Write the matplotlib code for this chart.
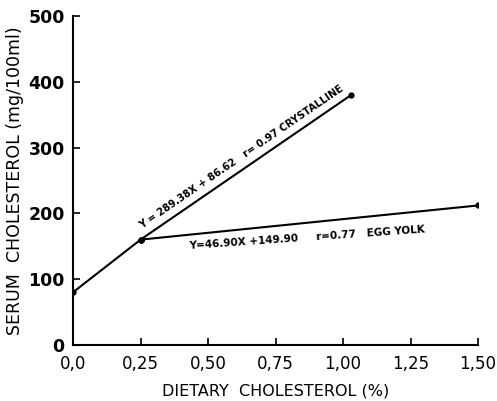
import matplotlib
matplotlib.use('Agg')
import matplotlib.pyplot as plt

# data
x_base = [0.0, 0.25]
y_base = [80, 160]
x_cryst = [0.25, 1.03]
y_cryst = [160, 380]
x_egg = [0.25, 1.5]
y_egg = [160, 212]

xticks = [0.0, 0.25, 0.50, 0.75, 1.00, 1.25, 1.50]
xtick_labels = ['0,0', '0,25', '0,50', '0,75', '1,00', '1,25', '1,50']
yticks = [0, 100, 200, 300, 400, 500]

cryst_label = 'Y = 289.38X + 86.62   r= 0.97 CRYSTALLINE'
egg_label = 'Y=46.90X +149.90     r=0.77   EGG YOLK'

fig = plt.figure(figsize=(4.97, 4.01), dpi=100)
ax = fig.add_axes([0.147, 0.140, 0.815, 0.820])

ax.plot(x_base, y_base, color='black', lw=1.5, marker='o', ms=3.5)
ax.plot(x_cryst, y_cryst, color='black', lw=1.5, marker='o', ms=3.5)
ax.plot(x_egg, y_egg, color='black', lw=1.5, marker='o', ms=3.5)

ax.text(0.26, 174, cryst_label, rotation=34.5, rotation_mode='anchor',
        ha='left', va='bottom', fontsize=7.2, fontweight='semibold')
ax.text(0.432, 143, egg_label, rotation=4, rotation_mode='anchor',
        ha='left', va='bottom', fontsize=7.5, fontweight='semibold')

ax.set_xlim(0, 1.5)
ax.set_ylim(0, 500)
ax.set_xticks(xticks)
ax.set_xticklabels(xtick_labels, fontsize=12)
ax.set_yticks(yticks)
ax.set_yticklabels([str(v) for v in yticks], fontsize=12.5, fontweight='bold')
ax.tick_params(direction='in', length=5, width=1.2)
ax.tick_params(axis='x', pad=7)
ax.tick_params(axis='y', pad=6)

ax.spines['top'].set_visible(False)
ax.spines['right'].set_visible(False)
ax.spines['left'].set_linewidth(1.5)
ax.spines['bottom'].set_linewidth(1.5)

ax.set_xlabel('DIETARY  CHOLESTEROL (%)', fontsize=11.5, labelpad=8)
ax.set_ylabel('SERUM  CHOLESTEROL (mg/100ml)', fontsize=12.5, labelpad=3)

fig.savefig('out.png', dpi=100)
